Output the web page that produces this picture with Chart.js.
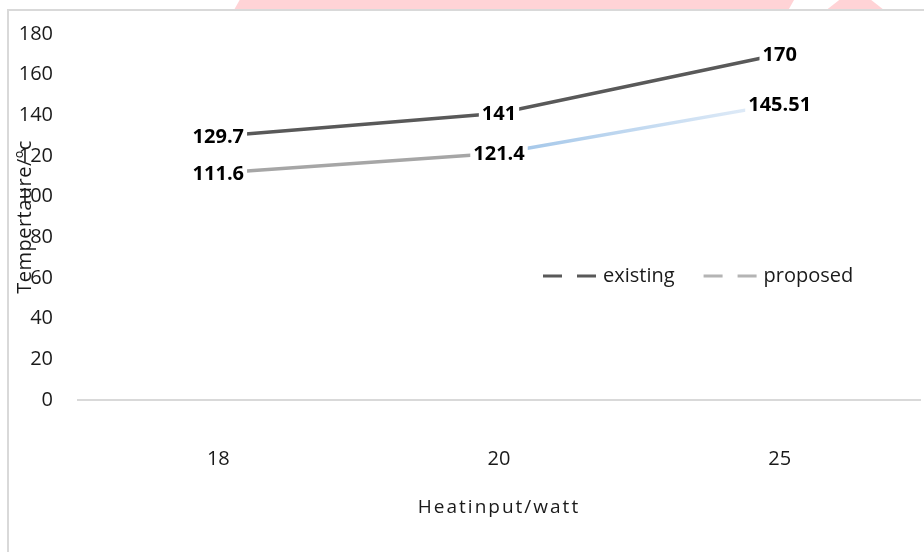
<!DOCTYPE html>
<html>
<head>
<meta charset="utf-8">
<script src="https://cdn.jsdelivr.net/npm/chart.js@4"></script>
<style>
    html, body {
        margin: 0;
        padding: 0;
        background: #ffffff;
        overflow: hidden;
    }
    #wrap {
        position: relative;
        width: 924px;
        height: 552px;
    }
    .mark {
        position: absolute;
        top: 0;
        height: 10px;
        background: #ffd3d6;
    }
    #frame {
        position: absolute;
        left: 7px;
        top: 9px;
        width: 940px;
        height: 560px;
        border-top: 2px solid #d9d9d9;
        border-left: 2px solid #d9d9d9;
    }
    #chart {
        position: absolute;
        left: 0;
        top: 0;
    }
</style>
</head>
<body>
<div id="wrap">
    <div class="mark" style="left:234px;width:560px;clip-path:polygon(1% 0,100% 0,99% 100%,0 100%)"></div>
    <div class="mark" style="left:820px;width:64px;clip-path:polygon(10% 100%,30% 0,80% 0,100% 100%)"></div>
    <div id="frame"></div>
    <canvas id="chart" width="924" height="552"></canvas>
</div>
<script>
const heatInput = ["18", "20", "25"];
const existingTemp = [129.7, 141, 170];
const proposedTemp = [111.6, 121.4, 145.51];
const seriesNames = ["existing", "proposed"];
const yTicks = {min: 0, max: 180, step: 20};

const FONT = "'Open Sans', Lato, sans-serif";
const TEXT_COLOR = "#1a1a1a";

// the second proposed segment fades from light blue to near white
const proposedSegment = ctx => {
    if (ctx.p0DataIndex !== 1) {
        return "#a6a6a6";
    }
    const g = ctx.chart.ctx.createLinearGradient(ctx.p0.x, 0, ctx.p1.x, 0);
    g.addColorStop(0, "#9fc4e8");
    g.addColorStop(1, "#e6eff9");
    return g;
};

const pointLabels = {
    id: "pointLabels",
    afterDatasetsDraw(chart) {
        const c = chart.ctx;
        c.save();
        c.font = "bold 20px " + FONT;
        c.textAlign = "center";
        c.textBaseline = "middle";
        chart.data.datasets.forEach((ds, i) => {
            const meta = chart.getDatasetMeta(i);
            meta.data.forEach((pt, j) => {
                const text = String(ds.data[j]);
                const w = c.measureText(text).width;
                c.fillStyle = "#ffffff";
                c.fillRect(pt.x - w / 2 - 3, pt.y - 12, w + 6, 24);
                c.fillStyle = "#000000";
                c.fillText(text, pt.x, pt.y + 1);
            });
        });
        c.restore();
    }
};

// axis titles are spaced out like the original, so they are drawn here
const axisTitles = {
    id: "axisTitles",
    afterDraw(chart) {
        const c = chart.ctx;
        const area = chart.chartArea;
        c.save();
        c.font = "19px " + FONT;
        c.fillStyle = TEXT_COLOR;
        c.textAlign = "center";
        c.textBaseline = "middle";
        c.letterSpacing = "2px";
        c.fillText("Heatinput/watt", (area.left + area.right) / 2, 508);
        c.font = "20px " + FONT;
        c.translate(25, 217);
        c.rotate(-Math.PI / 2);
        c.letterSpacing = "0.5px";
        c.fillText("Tempertaure/\u00bac", 0, 0);
        c.restore();
    }
};

const dashLegend = {
    id: "dashLegend",
    afterDraw(chart) {
        const c = chart.ctx;
        const colors = chart.data.datasets.map(ds => ds.legendColor);
        let x = 543;
        const y = 276;
        c.save();
        c.font = "20px " + FONT;
        c.textBaseline = "middle";
        seriesNames.forEach((name, i) => {
            c.strokeStyle = colors[i];
            c.lineWidth = 3;
            c.setLineDash([19, 15]);
            c.beginPath();
            c.moveTo(x, y);
            c.lineTo(x + 53, y);
            c.stroke();
            c.fillStyle = TEXT_COLOR;
            c.fillText(name, x + 60, y);
            x += 60 + c.measureText(name).width + 29;
        });
        c.restore();
    }
};

new Chart(document.getElementById("chart"), {
    type: "line",
    data: {
        labels: heatInput,
        datasets: [
            {
                label: seriesNames[0],
                data: existingTemp,
                borderColor: "#595959",
                legendColor: "#595959",
                borderWidth: 3.5,
                pointRadius: 0,
                tension: 0,
            },
            {
                label: seriesNames[1],
                data: proposedTemp,
                borderColor: "#a6a6a6",
                legendColor: "#b4b4b4",
                borderWidth: 3.5,
                pointRadius: 0,
                tension: 0,
                segment: {borderColor: proposedSegment},
            },
        ],
    },
    options: {
        responsive: false,
        animation: false,
        layout: {padding: {top: 34, right: 4, left: 0, bottom: 0}},
        plugins: {
            legend: {display: false},
            tooltip: {enabled: false},
        },
        scales: {
            x: {
                offset: true,
                grid: {display: false},
                border: {display: true, color: "#d9d9d9", width: 2},
                ticks: {
                    padding: 39,
                    color: TEXT_COLOR,
                    font: {family: FONT, size: 20},
                },
                afterFit(scale) {
                    scale.height = 152;
                },
            },
            y: {
                min: yTicks.min,
                max: yTicks.max,
                grid: {display: false},
                border: {display: false},
                ticks: {
                    stepSize: yTicks.step,
                    padding: 17,
                    color: TEXT_COLOR,
                    font: {family: FONT, size: 20},
                },
                afterFit(scale) {
                    scale.width = 78;
                },
            },
        },
    },
    plugins: [pointLabels, axisTitles, dashLegend],
});
</script>
</body>
</html>
